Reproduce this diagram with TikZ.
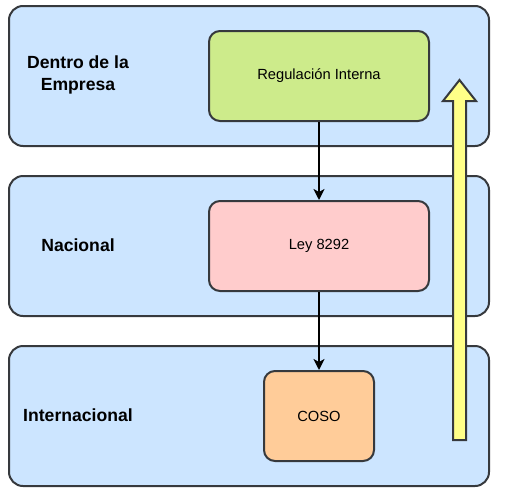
\documentclass[tikz,border=0pt]{standalone}
\usepackage{fontspec}
\setmainfont{Liberation Sans}
\usetikzlibrary{arrows.meta}
\definecolor{lanefill}{HTML}{CCE5FF}
\definecolor{darkline}{HTML}{36393D}
\definecolor{greenfill}{HTML}{CDEB8B}
\definecolor{redfill}{HTML}{FFCCCC}
\definecolor{orangefill}{HTML}{FFCC99}
\definecolor{yellowfill}{HTML}{FFFF88}
\tikzset{
  lane/.style={draw=darkline,fill=lanefill,line width=2pt,rounded corners=14pt},
  levelbox/.style={draw=darkline,line width=2pt,rounded corners=11pt,font=\fontsize{14.7}{17}\selectfont},
  lanelabel/.style={font=\fontsize{17.6}{22}\selectfont\bfseries,align=center},
  flow/.style={-{Stealth[length=11pt,width=11pt,inset=3pt]},line width=2pt,black}
}
\begin{document}
\begin{tikzpicture}[x=1pt,y=-1pt]
      \useasboundingbox (0,0) rectangle (508,493);
      \draw[lane] (9,6) rectangle (489,146);
      \draw[lane] (9,176) rectangle (489,316);
      \draw[lane] (9,346) rectangle (489,486);
      \node[lanelabel] (empresa) at (78,75) {Dentro de la\\Empresa};
      \node[lanelabel] (nacional) at (78,245) {Nacional};
      \node[lanelabel] (internacional) at (78,415) {Internacional};
      \node[levelbox,fill=greenfill,minimum width=220pt,minimum height=90pt] (interna) at (319,76) {Regulación Interna};
      \node[levelbox,fill=redfill,minimum width=220pt,minimum height=90pt] (ley) at (319,246) {Ley 8292};
      \node[levelbox,fill=orangefill,minimum width=110pt,minimum height=90pt] (coso) at (319,416) {COSO};
      \draw[flow] (interna) -- (ley);
      \draw[flow] (ley) -- (coso);
      % flecha amarilla
      \draw[darkline,fill=yellowfill,line width=2pt,line join=miter]
        (453,440) -- (453,101) -- (443,101) -- (459.5,80) -- (476,101) -- (466,101) -- (466,440) -- cycle;
\end{tikzpicture}
\end{document}
